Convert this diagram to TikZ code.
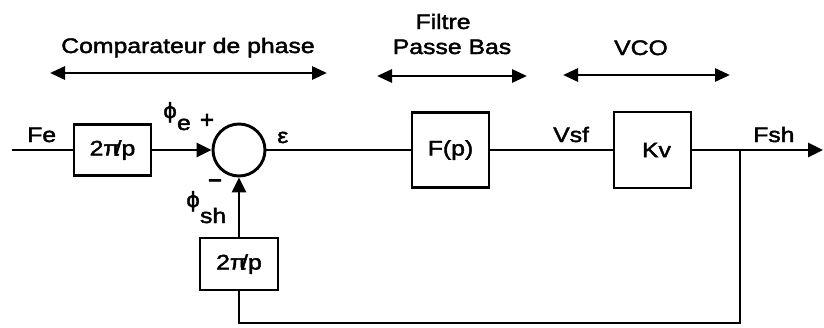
\documentclass[tikz,border=0pt]{standalone}
\usepackage{fontspec}
\setmainfont[FakeStretch=1.18,FakeBold=2]{Liberation Sans}
\newfontfamily\phifont[FakeBold=2]{DejaVu Sans}
\newfontfamily\signfont[FakeBold=3]{Liberation Sans}
\usetikzlibrary{arrows.meta}
\tikzset{
  every node/.style={font=\fontsize{21}{25}\selectfont, inner sep=0pt},
  wire/.style={line width=2.9pt},
  arr/.style={wire, -{Triangle[length=15pt,width=14pt]}},
  darr/.style={wire, {Triangle[length=15pt,width=13pt]}-{Triangle[length=15pt,width=13pt]}},
  blockbox/.style={draw, line width=2.9pt, minimum width=77pt, minimum height=#1},
  sumcirc/.style={draw, circle, line width=2.9pt, minimum size=52pt},
  sign/.style={font=\signfont\fontsize{24}{28}\selectfont},
  lbl/.style={anchor=base west},
  ttl/.style={anchor=base}
}
\begin{document}
\begin{tikzpicture}[x=1pt,y=-1pt]
\useasboundingbox (0,0) rectangle (824,327);
% blocks
\node[blockbox=51pt] (b1) at (112.5,150) {2π\kern-0.28em/p};
\node[sumcirc] (sum) at (239,150) {};
\node[blockbox=75pt] (fp) at (450.5,150) {F(p)};
\node[blockbox=76pt] (kv) at (652.5,150) {\hspace{8pt}Kv};
\node[blockbox=52pt, minimum width=78pt] (b2) at (239,264) {2π\kern-0.28em/p};
% coordinates
\coordinate (fe) at (12,150);
\coordinate (out) at (823,150);
\coordinate (j) at (740,150);
\coordinate (jb) at (740,323);
% connectors
\draw[wire] (fe) -- (b1.west);
\draw[arr] (b1.east) -- (sum.west);
\draw[wire] (sum.east) -- (fp.west);
\draw[wire] (fp.east) -- (kv.west);
\draw[arr] (kv.east) -- (out);
\draw[wire] (j) -- (jb) -| (b2.south);
\draw[arr] (b2.north) -- (sum.south);
% signal labels
\node[lbl] (lfe) at (27,142) {Fe};
\node[lbl] (lphie) at (163,118) {{\phifont ϕ}\raisebox{-12pt}{e}};
\node[sign] (lplus) at (207,121) {+};
\node[sign] (lminus) at (215,184) {−};
\node[lbl] (lphish) at (186,207) {{\phifont ϕ}\raisebox{-16pt}{sh}};
\node[lbl] (leps) at (277,143) {ε};
\node[lbl] (lvsf) at (553,142) {Vsf};
\node[lbl] (lfsh) at (753,142) {Fsh};
% section titles
\node[ttl] (tcomp) at (188,53) {Comparateur de phase};
\node[ttl] (tfil1) at (443,29) {Filtre};
\node[ttl] (tfil2) at (452,54) {Passe Bas};
\node[ttl] (tvco) at (641,55) {VCO};
\coordinate (c1) at (50,73);
\coordinate (c2) at (327,73);
\coordinate (f1) at (377,76);
\coordinate (f2) at (527,76);
\coordinate (v1) at (563,75);
\coordinate (v2) at (730,75);
\draw[darr] (c1) -- (c2);
\draw[darr] (f1) -- (f2);
\draw[darr] (v1) -- (v2);
\end{tikzpicture}
\end{document}
